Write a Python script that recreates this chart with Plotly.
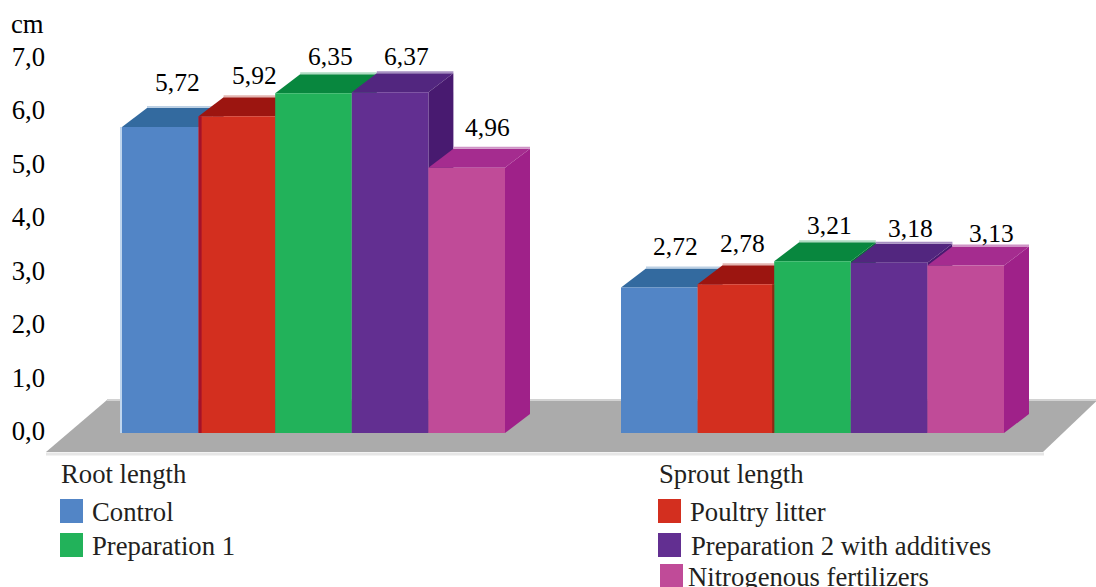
import plotly.graph_objects as go

# Measured lengths, cm
groups = ["Root length", "Sprout length"]
treatments = ["Control", "Poultry litter", "Preparation 1",
              "Preparation 2 with additives", "Nitrogenous fertilizers"]
root_length = [5.72, 5.92, 6.35, 6.37, 4.96]
sprout_length = [2.72, 2.78, 3.21, 3.18, 3.13]
y_ticks = [0, 1, 2, 3, 4, 5, 6, 7]
y_tick_labels = ["0,0", "1,0", "2,0", "3,0", "4,0", "5,0", "6,0", "7,0"]

W, H = 1096, 587
LEFT = 46
PX_X = 76.6   # pixels per bar width
PX_Y = 53.5   # pixels per cm
ZERO_PX = 433
DX = 25 / PX_X   # extrusion depth along x
DY = 19 / PX_Y   # extrusion depth along y
GROUP_START = [122 / PX_X, 621 / PX_X]

FRONT = ["#5285c6", "#d32f1f", "#22b25a", "#622f91", "#c04b98"]
TOP = ["#336a9f", "#9c1510", "#08873e", "#52267f", "#a52c8f"]
SIDE = ["#2d5d8e", "#85120e", "#067236", "#481a70", "#9f2189"]
RIM = ["#bcd0e4", "#e3b5b0", "#aedcc2", "#a78fc2", "#cf94c6"]
FONT = "Liberation Serif"
SIZE_TEXT = 26.7
SIZE_VALUE = 25.5

# label nudges from the bar's top centre, pixels
NUDGE = [[(17, 44), (18, 41), (17, 37), (16, 36), (21, 40)],
         [(16, 41), (7, 41), (17, 36), (21, 34), (26, 32)]]


def paper_x(px):
    return (px - LEFT) / (W - LEFT)


def paper_y(py):
    return 1 - py / H


fig = go.Figure()

# grey floor the bars stand on
floor_front = -19 / PX_Y
floor_back = 33 / PX_Y
fig.add_trace(go.Scatter(
    x=[46 / PX_X, 107 / PX_X, W / PX_X + 0.02, 1043 / PX_X, 46 / PX_X],
    y=[floor_front, floor_back, floor_back, floor_front, floor_front],
    mode="lines", fill="toself", fillcolor="#ababab",
    line=dict(color="#ababab", width=0), hoverinfo="skip", zorder=-2))
fig.add_trace(go.Scatter(
    x=[45 / PX_X, 1044 / PX_X], y=[floor_front - 2 / PX_Y] * 2, mode="lines",
    line=dict(color="#e6e6e6", width=3), hoverinfo="skip", zorder=-2))
fig.add_trace(go.Scatter(
    x=[107 / PX_X, W / PX_X + 0.02], y=[floor_back] * 2, mode="lines",
    line=dict(color="#d2d2d2", width=2), hoverinfo="skip", zorder=-2))

series_by_group = [root_length, sprout_length]
for i, name in enumerate(treatments):
    xs = [GROUP_START[g] + i + 0.5 for g in range(2)]
    ys = [series_by_group[g][i] for g in range(2)]
    z = 2 * i

    for x, v in zip(xs, ys):
        x0, x1 = x - 0.5, x + 0.5
        # upper face, lit back edge, and right-hand face of the extruded bar
        fig.add_trace(go.Scatter(
            x=[x0, x0 + DX, x1 + DX, x1, x0], y=[v, v + DY, v + DY, v, v],
            mode="lines", fill="toself", fillcolor=TOP[i],
            line=dict(color=TOP[i], width=0), hoverinfo="skip", zorder=z))
        fig.add_trace(go.Scatter(
            x=[x1, x1 + DX, x1 + DX, x1, x1],
            y=[0, DY, v + DY, v, 0],
            mode="lines", fill="toself", fillcolor=SIDE[i],
            line=dict(color=SIDE[i], width=0), hoverinfo="skip", zorder=z))
        fig.add_trace(go.Scatter(
            x=[x0 + DX, x1 + DX], y=[v + DY + 1 / PX_Y] * 2, mode="lines",
            line=dict(color=RIM[i], width=2), hoverinfo="skip", zorder=z))

    fig.add_trace(go.Bar(
        x=xs, y=ys, width=1, name=name, marker=dict(color=FRONT[i], line=dict(width=0)),
        zorder=z + 1))

# thin shaded edges between neighbouring bars
fig.add_trace(go.Scatter(
    x=[GROUP_START[0] + 1 + 1.5 / PX_X] * 2, y=[0, root_length[1]], mode="lines",
    line=dict(color="#a5122a", width=3), hoverinfo="skip", zorder=20))
fig.add_trace(go.Scatter(
    x=[GROUP_START[1] + 2 - 1 / PX_X] * 2, y=[0, sprout_length[1]], mode="lines",
    line=dict(color="#8a2a12", width=2), hoverinfo="skip", zorder=20))
fig.add_trace(go.Scatter(
    x=[GROUP_START[0] - 1 / PX_X] * 2, y=[0, root_length[0]], mode="lines",
    line=dict(color="#c0d6ee", width=2), hoverinfo="skip", zorder=20))

annotations = []
for g in range(2):
    for i, v in enumerate(series_by_group[g]):
        annotations.append(dict(
            x=GROUP_START[g] + i + 0.5, y=v, xref="x", yref="y",
            text=f"{v:.2f}".replace(".", ","), showarrow=False,
            xshift=NUDGE[g][i][0], yshift=NUDGE[g][i][1],
            font=dict(family=FONT, size=SIZE_VALUE, color="#000000")))


def note(text, px, py, color="#231f20"):
    annotations.append(dict(
        x=paper_x(px), y=paper_y(py), xref="paper", yref="paper", text=text,
        showarrow=False, xanchor="left", yanchor="middle",
        xshift=-1, font=dict(family=FONT, size=SIZE_TEXT, color=color)))


note("cm", 10, 24, "#000000")
note(groups[0], 60, 474)
note(groups[1], 658, 474)

# hand-placed key, two columns under the floor
key = [(0, 60, 511, 91), (2, 60, 545, 91), (1, 658, 511, 689),
       (3, 658, 545, 690), (4, 660, 576, 687)]
shapes = []
for idx, sx, sy, tx in key:
    shapes.append(dict(
        type="rect", xref="paper", yref="paper", layer="above",
        x0=paper_x(sx), x1=paper_x(sx + 23), y0=paper_y(sy - 12), y1=paper_y(sy + 12),
        fillcolor=FRONT[idx], line=dict(width=0)))
    note(treatments[idx], tx, sy + 1)

fig.update_layout(
    width=W, height=H, margin=dict(l=LEFT, r=0, t=0, b=0),
    paper_bgcolor="#ffffff", plot_bgcolor="rgba(0,0,0,0)",
    barmode="overlay", showlegend=False,
    annotations=annotations, shapes=shapes,
    xaxis=dict(range=[LEFT / PX_X, W / PX_X], visible=False, fixedrange=True),
    yaxis=dict(
        range=[-(H - ZERO_PX) / PX_Y, ZERO_PX / PX_Y],
        tickvals=y_ticks, ticktext=y_tick_labels, showgrid=False, zeroline=False,
        showline=False, ticks="", ticklabelshift=-2,
        tickfont=dict(family=FONT, size=SIZE_TEXT, color="#000000"),
        fixedrange=True),
)

fig.write_html("out.html", config=dict(displayModeBar=False))
